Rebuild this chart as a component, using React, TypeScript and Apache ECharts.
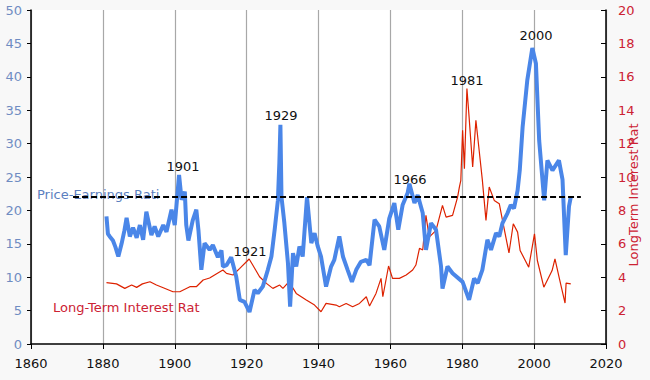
import React, { useEffect, useRef } from "react";
import * as echarts from "echarts";

// Cyclically adjusted price-earnings ratio: [year, value]
const peSeries: [number, number][] = [
  [1881.0, 19.1], [1881.4, 16.5], [1881.9, 16.1], [1882.8, 15.5], [1883.5, 14.5], [1884.3, 13.1],
  [1885.2, 15.0], [1886.0, 17.0], [1886.6, 18.9], [1887.5, 16.1], [1888.4, 17.4], [1889.4, 15.9],
  [1890.3, 17.8], [1891.2, 15.6], [1892.1, 19.8], [1893.5, 16.3], [1894.4, 17.6], [1895.4, 16.1],
  [1896.8, 17.8], [1897.7, 16.8], [1899.1, 20.1], [1900.0, 17.8], [1900.6, 21.5], [1901.2, 25.3],
  [1901.9, 21.6], [1902.8, 22.8], [1903.2, 17.8], [1903.8, 15.5], [1905.0, 18.5], [1906.0, 20.1],
  [1906.6, 17.0], [1907.4, 11.1], [1908.3, 15.1], [1909.7, 14.1], [1910.6, 14.8], [1912.0, 13.0],
  [1913.0, 14.0], [1913.4, 11.6], [1914.4, 11.8], [1915.7, 13.0], [1917.1, 10.1], [1918.1, 6.6],
  [1919.4, 6.3], [1920.8, 4.8], [1922.2, 8.1], [1923.1, 7.6], [1924.5, 8.6], [1925.9, 11.1],
  [1926.9, 13.1], [1927.8, 17.1], [1928.7, 21.5], [1929.1, 27.0], [1929.4, 32.8], [1929.7, 22.0],
  [1930.5, 18.1], [1931.5, 12.1], [1932.1, 5.6], [1932.9, 13.6], [1933.8, 11.6], [1934.7, 14.6],
  [1935.6, 13.1], [1936.8, 22.0], [1938.0, 15.1], [1938.9, 16.6], [1939.8, 14.6], [1940.7, 13.1],
  [1942.1, 8.6], [1943.5, 11.6], [1944.4, 12.6], [1945.8, 16.1], [1946.8, 13.1], [1948.1, 11.1],
  [1949.3, 9.3], [1950.5, 11.1], [1951.8, 12.3], [1953.3, 12.6], [1954.2, 11.8], [1955.6, 18.6],
  [1956.9, 17.6], [1958.3, 14.1], [1959.7, 18.8], [1961.1, 21.1], [1962.2, 17.1], [1963.4, 20.8],
  [1964.8, 22.6], [1965.3, 24.0], [1966.7, 21.1], [1967.6, 22.3], [1969.0, 19.6], [1969.9, 14.1],
  [1971.3, 18.1], [1972.7, 17.1], [1974.1, 11.6], [1974.5, 8.3], [1975.9, 11.6], [1977.3, 10.6],
  [1980.1, 9.3], [1981.9, 6.6], [1983.3, 9.8], [1984.3, 9.1], [1985.6, 11.1], [1987.0, 15.6],
  [1988.0, 14.1], [1989.4, 16.6], [1990.3, 16.1], [1991.2, 18.1], [1992.6, 19.6], [1993.5, 20.8],
  [1994.4, 20.3], [1995.4, 23.0], [1996.0, 26.0], [1996.8, 32.5], [1998.1, 39.5], [1999.5, 44.3],
  [2000.5, 42.0], [2001.4, 30.5], [2002.8, 21.5], [2003.7, 27.5], [2005.1, 26.0], [2006.9, 27.5],
  [2007.9, 24.6], [2008.8, 13.3], [2009.7, 20.6], [2010.2, 22.0],
];

// Long-term interest rate (percent, right axis): [year, value]
const rateSeries: [number, number][] = [
  [1881.0, 3.67], [1883.8, 3.6], [1886.1, 3.33], [1888.0, 3.53], [1889.4, 3.39], [1891.0, 3.6],
  [1893.1, 3.73], [1894.9, 3.53], [1896.8, 3.37], [1899.5, 3.13], [1901.4, 3.13], [1904.2, 3.43],
  [1906.0, 3.43], [1907.9, 3.83], [1909.7, 3.95], [1912.0, 4.25], [1913.4, 4.43], [1914.4, 4.23],
  [1916.2, 4.13], [1918.1, 4.53], [1920.7, 5.09], [1921.7, 4.73], [1923.6, 4.03], [1925.5, 3.63],
  [1927.3, 3.33], [1929.2, 3.53], [1930.1, 3.33], [1931.8, 3.73], [1933.8, 3.03], [1936.6, 2.63],
  [1938.9, 2.33], [1940.7, 1.93], [1942.1, 2.43], [1944.9, 2.33], [1945.8, 2.23], [1947.7, 2.43],
  [1949.5, 2.23], [1951.4, 2.43], [1953.3, 2.83], [1954.2, 2.27], [1956.0, 3.03], [1957.4, 3.93],
  [1957.9, 2.83], [1959.5, 4.67], [1960.6, 3.93], [1962.5, 3.93], [1964.4, 4.13], [1966.2, 4.43],
  [1967.1, 4.73], [1968.1, 5.73], [1969.0, 5.63], [1969.9, 7.7], [1970.8, 6.4], [1972.7, 6.8],
  [1974.5, 8.3], [1975.5, 7.6], [1977.3, 7.7], [1978.7, 8.8], [1979.2, 9.4], [1979.6, 9.8],
  [1980.1, 12.8], [1980.6, 10.5], [1981.3, 15.3], [1981.9, 13.6], [1982.9, 10.6], [1983.8, 13.4],
  [1984.7, 11.6], [1985.6, 9.8], [1986.6, 7.4], [1987.5, 9.4], [1988.9, 8.6], [1990.3, 8.4],
  [1991.2, 7.4], [1993.0, 5.45], [1994.2, 7.2], [1995.4, 6.7], [1996.1, 5.6], [1998.5, 4.6],
  [2000.1, 6.6], [2000.9, 5.0], [2002.7, 3.4], [2005.0, 4.4], [2005.8, 5.1], [2007.0, 3.95],
  [2008.6, 2.45], [2008.9, 3.65], [2010.2, 3.6],
];

const peAverage = 22;
const averageSpan = [1871.7, 2013];

const xRange = { min: 1860, max: 2020, interval: 20 };
const peRange = { min: 0, max: 50, interval: 5 };
const rateRange = { min: 0, max: 20, interval: 2 };

const peakLabels = [
  { text: "1901", x: 183, y: 166 },
  { text: "1921", x: 250, y: 251 },
  { text: "1929", x: 281, y: 115 },
  { text: "1966", x: 410, y: 179 },
  { text: "1981", x: 467, y: 80 },
  { text: "2000", x: 536, y: 35 },
];

const FONT = "DejaVu Sans";
const BLUE = "#4a86e8";
const RED = "#dd2200";
const RED_TEXT = "#cc2233";
const LEFT_TEXT = "#6f8cc2";

export default function App() {
  const ref = useRef<HTMLDivElement>(null);
  useEffect(() => {
    if (!ref.current) return;
    const chart = echarts.init(ref.current, null, { renderer: "svg" });
    chart.setOption({
      animation: false,
      backgroundColor: "#f8f8f8",
      textStyle: { fontFamily: FONT },
      grid: {
        left: 31, right: 44, top: 10, bottom: 36,
        show: true, backgroundColor: "#ffffff", borderWidth: 0,
      },
      xAxis: {
        type: "value",
        ...xRange,
        axisLine: { show: true, lineStyle: { color: "#000", width: 1.5 } },
        axisTick: { show: true, length: 5, lineStyle: { color: "#000" } },
        axisLabel: {
          color: "#111", fontSize: 13, margin: 13, fontFamily: FONT,
          formatter: (v: number) => String(v),
        },
        splitLine: { show: true, lineStyle: { color: "#a8a8a8", width: 1.2 } },
      },
      yAxis: [
        {
          type: "value",
          ...peRange,
          position: "left",
          axisLine: { show: true, lineStyle: { color: "#000", width: 1.5 } },
          axisTick: { show: true, length: 4, lineStyle: { color: "#000" } },
          axisLabel: { color: LEFT_TEXT, fontSize: 13, margin: 9, fontFamily: FONT },
          splitLine: { show: false },
        },
        {
          type: "value",
          ...rateRange,
          position: "right",
          axisLine: { show: true, lineStyle: { color: "#000", width: 1.5 } },
          axisTick: { show: true, inside: true, length: 5, lineStyle: { color: "#000" } },
          axisLabel: { color: RED_TEXT, fontSize: 13, margin: 12, fontFamily: FONT },
          splitLine: { show: false },
        },
      ],
      series: [
        {
          type: "line",
          name: "PE",
          data: peSeries,
          yAxisIndex: 0,
          showSymbol: false,
          lineStyle: { color: BLUE, width: 4 },
          z: 3,
          markLine: {
            silent: true,
            symbol: "none",
            label: { show: false },
            lineStyle: { color: "#000", type: [6, 3], width: 1.8 },
            data: [[{ coord: [averageSpan[0], peAverage] }, { coord: [averageSpan[1], peAverage] }]],
          },
        },
        {
          type: "line",
          name: "Rate",
          data: rateSeries,
          yAxisIndex: 1,
          showSymbol: false,
          lineStyle: { color: RED, width: 1.2 },
          z: 2,
        },
      ],
      graphic: [
        ...peakLabels.map((p) => ({
          type: "text",
          x: p.x, y: p.y, z: 10,
          style: {
            text: p.text, fill: "#111", fontSize: 13, fontFamily: FONT,
            align: "center", verticalAlign: "middle",
          },
        })),
        {
          type: "text", x: 37, y: 194, z: 1,
          style: { text: "Price-Earnings Rati", fill: "#5b7fc0", fontSize: 13, fontFamily: FONT, verticalAlign: "middle" },
        },
        {
          type: "text", x: 53, y: 307, z: 10,
          style: { text: "Long-Term Interest Rat", fill: RED_TEXT, fontSize: 13, fontFamily: FONT, verticalAlign: "middle" },
        },
        {
          type: "text", x: 633, y: 195, rotation: Math.PI / 2, z: 10,
          style: { text: "LongTerm Interest Rat", fill: RED_TEXT, fontSize: 13, fontFamily: FONT, align: "center", verticalAlign: "middle" },
        },
      ],
    });
    return () => chart.dispose();
  }, []);
  return <div ref={ref} style={{ position: "fixed", left: 0, top: 0, width: 650, height: 380 }} />;
}
